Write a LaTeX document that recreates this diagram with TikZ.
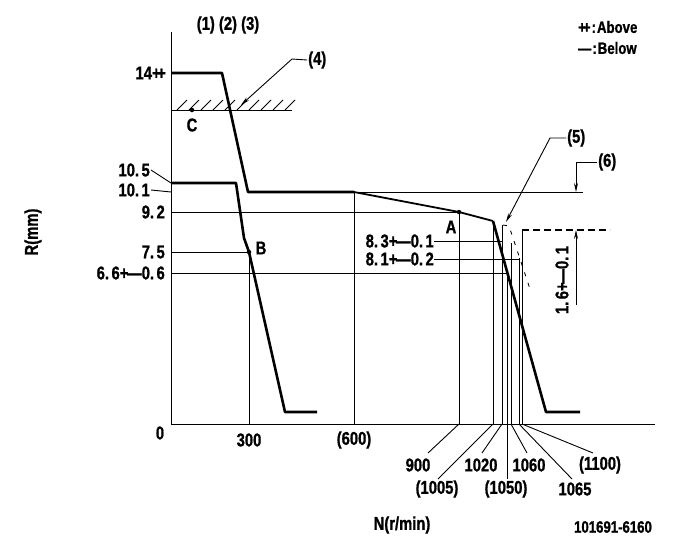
\documentclass[tikz,border=0pt]{standalone}
\usepackage{fontspec}
\newfontfamily\chartfont[FakeStretch=0.8, BoldFeatures={FakeBold=1}]{Liberation Sans}
\usetikzlibrary{arrows.meta}
\newcommand\dt{.\kern2.5pt}
\newcommand\pmk{+\kern-1.5pt—}

\tikzset{
  lab/.style={font={\chartfont\bfseries\fontsize{18.5}{18.5}\selectfont}, inner sep=1pt},
  small/.style={font={\chartfont\bfseries\fontsize{16.5}{16.5}\selectfont}, inner sep=1pt},
  fine/.style={line width=0.9pt},
  curve/.style={line width=2.6pt, line join=round},
  slope/.style={line width=1.8pt, line join=round},
  dot/.style={circle, fill, inner sep=0pt, minimum size=4.5pt},
  tip/.style={-{Stealth[length=9pt,width=4pt]}},
}

\begin{document}
\begin{tikzpicture}[x=1pt,y=-1pt]
\useasboundingbox (0,0) rectangle (681,549);

% axes
\coordinate (O) at (171,424);
\coordinate (ytop) at (171,32);
\coordinate (xend) at (655,424);
\draw[fine] (ytop) -- (O) -- (xend);

% points of the curves
\coordinate (c1a) at (171,73);
\coordinate (c1b) at (222,73);
\coordinate (c1c) at (248,192);
\coordinate (c1d) at (354,192);
\coordinate (A) at (459,212);
\coordinate (knee) at (493,221);
\coordinate (c1f) at (546,412);
\coordinate (c1g) at (580,412);
\coordinate (c2a) at (171,183);
\coordinate (c2b) at (236,183);
\coordinate (c2c) at (244,238);
\coordinate (B) at (249,252);
\coordinate (c2e) at (285,412);
\coordinate (c2f) at (317,412);
\coordinate (C) at (192,110);

% reference lines
\draw[fine] (c1c) -- (583,192);
\draw[fine] (171,212) -- (A);
\draw[fine] (171,252) -- (B);
\draw[fine] (171,273) -- (507,273);
\foreach \x/\y in {249/252, 354/192, 459/212, 493/221, 502/225, 507/273, 511/243, 519/258, 522/230}
  \draw[fine] (\x,\y) -- (\x,424);

% stop line (4)
\draw[fine] (171,110) -- (292,110);
\foreach \i in {0,...,9}
  \draw[fine] (177+12*\i,110) -- (187+12*\i,100);

% curves
\draw[curve] (c1a) -- (c1b) -- (c1c) -- (c1d);
\draw[slope] (c1d) -- (A) -- (knee);
\draw[curve] (knee) -- (c1f) -- (c1g);
\draw[curve] (c2a) -- (c2b) -- (c2c) -- (B) -- (c2e) -- (c2f);
\draw[fine, dash pattern=on 4pt off 7pt] (503,225) -- (509,226) -- (531,292);
\draw[line width=2.6pt, dash pattern=on 7pt off 4pt] (522,230) -- (610,230);

\node[dot] at (A) {};
\node[dot] at (B) {};
\node[dot] at (C) {};
\node[lab] (labA) at (451,227) {A};
\node[lab] (labB) at (261,248) {B};
\node[lab] (labC) at (192,125) {C};

% left labels
\node[lab, anchor=east] (l14) at (167,73) {14+\kern-3.5pt+};
\node[lab, anchor=east] (l105) at (151,170) {10\dt5};
\node[lab, anchor=east] (l101) at (151,190) {10\dt1};
\node[lab, anchor=east] (l92) at (166,212) {9\dt2};
\node[lab, anchor=east] (l75) at (166,252) {7\dt5};
\node[lab, anchor=east] (l66) at (166,273) {6\dt6\pmk0\dt6};
\draw[fine] (l105.east) -- (171,183);
\draw[fine] (l101.east) -- (171,192);
\node[lab] (l0) at (160,433) {0};
\node[lab, rotate=90] (ylab) at (33,232) {R(mm)};

% inner labels
\node[lab, anchor=east, inner sep=0pt] (l83) at (434,241) {8\dt3\pmk0\dt1};
\node[lab, anchor=east, inner sep=0pt] (l81) at (434,259) {8\dt1\pmk0\dt2};
\draw[fine] (l83.east) -- (502,241);
\draw[fine] (l81.east) -- (519,259);

% bottom labels
\node[lab] (n300) at (249,440) {300};
\node[lab] (n600) at (354,440) {(600)};
\node[lab] (n900) at (418,465) {900};
\node[lab] (n1005) at (437,489) {(1005)};
\node[lab] (n1020) at (481,465) {1020};
\node[lab] (n1050) at (506,489) {(1050)};
\node[lab] (n1060) at (529,465) {1060};
\node[lab] (n1065) at (575,489) {1065};
\node[lab] (n1100) at (600,465) {(1100)};
\draw[fine] (459,424) -- (428,453);
\draw[fine] (493,424) -- (438,479);
\draw[fine] (502,424) -- (482,453);
\draw[fine] (507,424) -- (507,479);
\draw[fine] (511,424) -- (527,453);
\draw[fine] (519,424) -- (572,479);
\draw[fine] (522,424) -- (593,453);
\node[lab] (xlab) at (402,525) {N(r/min)};
\node[small] (code) at (613,527) {101691-6160};

% top labels and callouts
\node[lab] (marks) at (228,25) {(1) (2) (3)};
\node[small, anchor=west] (above) at (577,27) {+\kern-3pt+\kern1pt:\kern1pt Above};
\node[small, anchor=west] (below) at (577,48) {—\kern1pt:\kern1pt Below};
\node[lab, anchor=west] (m4) at (307,60) {(4)};
\node[lab, anchor=west] (m5) at (566,138) {(5)};
\node[lab, anchor=west] (m6) at (597,162) {(6)};
\draw[fine, tip] (m4.west) -- (292,59) -- (241,105);
\draw[fine, tip] (m5.west) -- (550,138) -- (506,222);
\draw[fine, tip] (m6.west) -- (576,162) -- (576,192);
\draw[fine, tip] (576,305) -- (576,230);
\node[lab, rotate=90] (d16) at (562,280) {1\dt6\pmk0\dt1};
\end{tikzpicture}
\end{document}
